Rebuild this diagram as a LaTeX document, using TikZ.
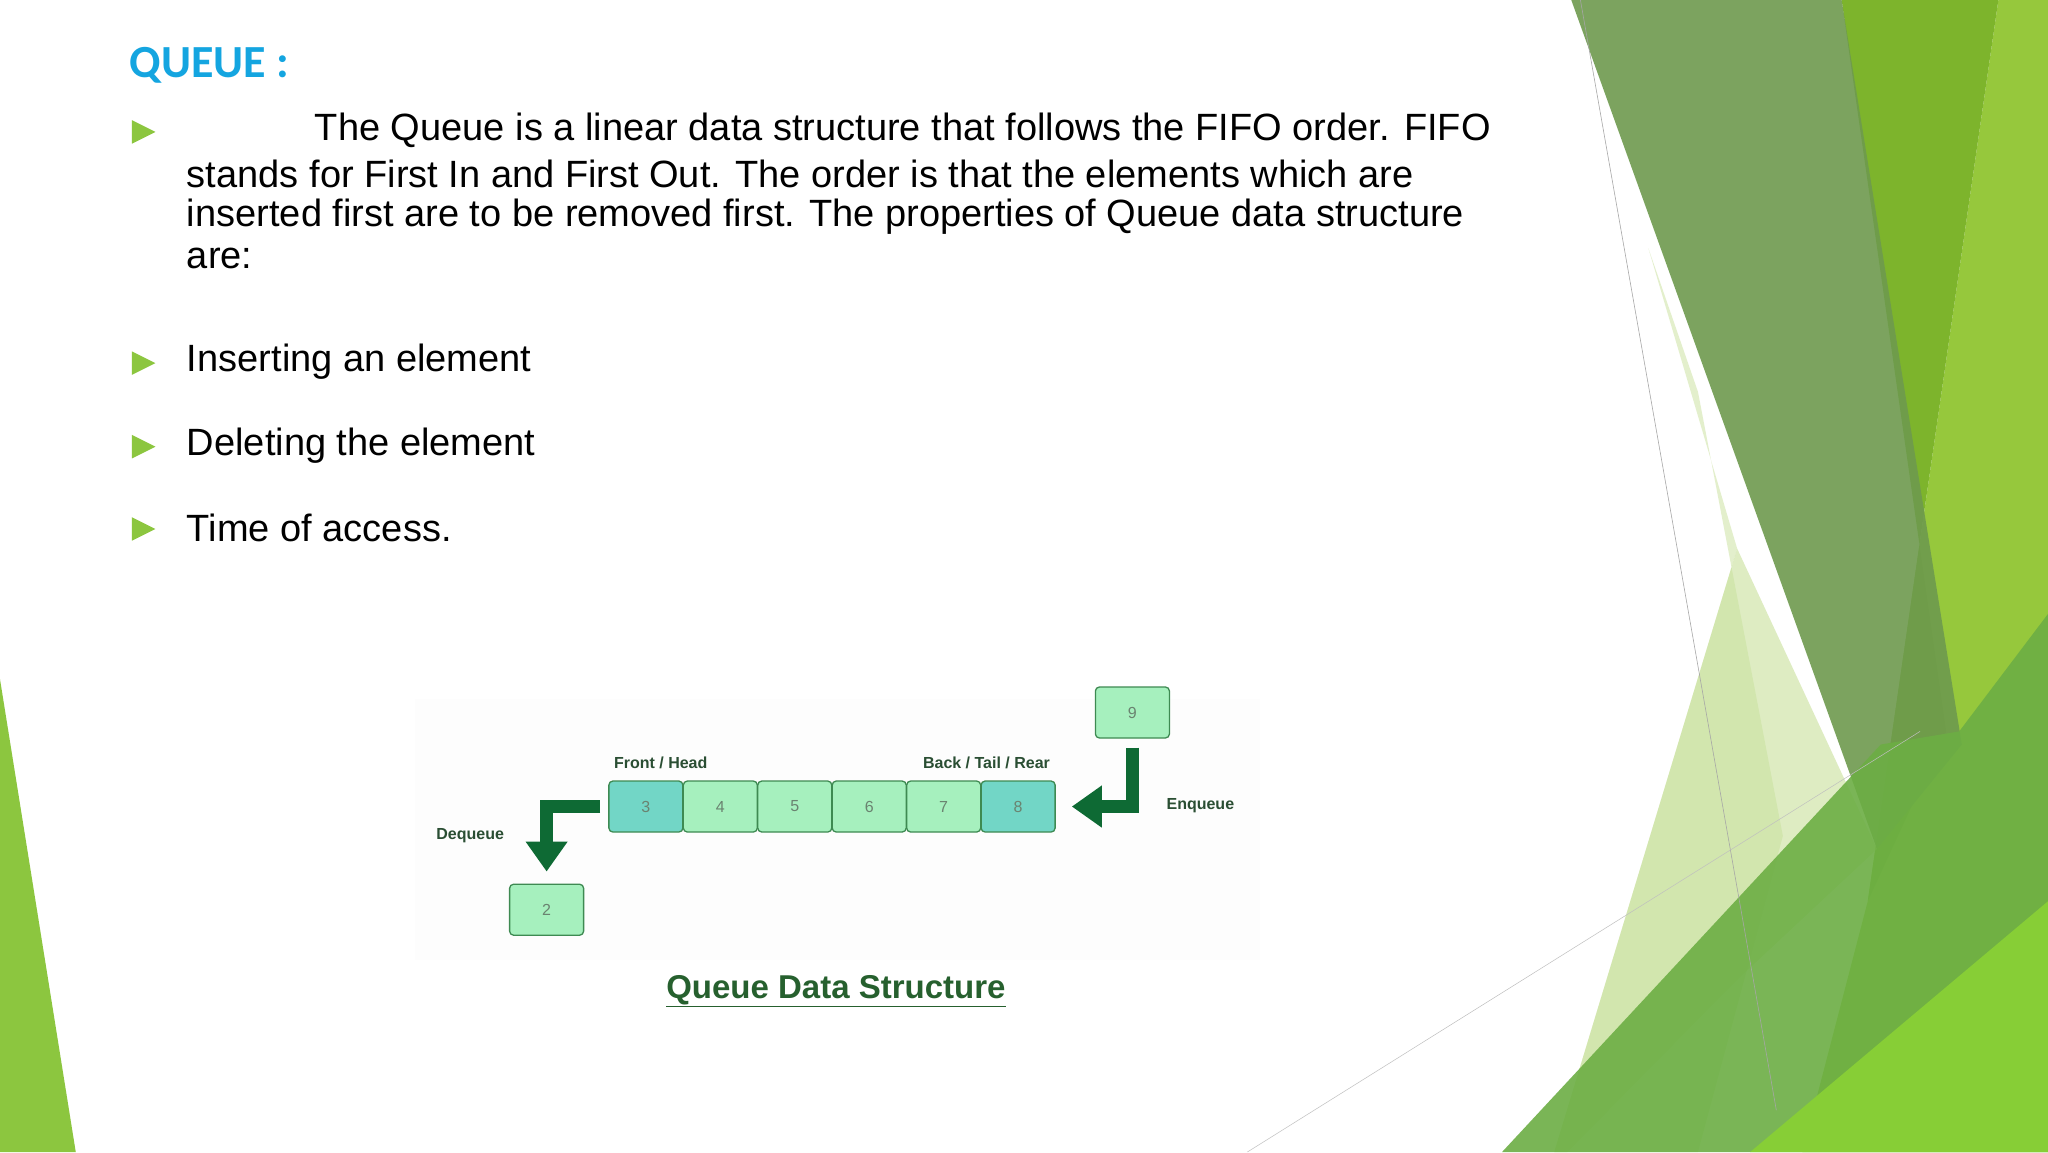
\documentclass[tikz,border=0pt]{standalone}
\usepackage{fontspec}
\setmainfont{Liberation Sans}
\newfontfamily\titlefont{Carlito}
\usetikzlibrary{arrows.meta}
\definecolor{qblue}{HTML}{14A5E0}
\definecolor{bgreen}{HTML}{8CC63F}
\definecolor{olive}{HTML}{6E9A4E}
\definecolor{mgreen}{HTML}{7DB42C}
\definecolor{lime}{HTML}{96C83C}
\definecolor{pale}{HTML}{C8E09A}
\definecolor{bandg}{HTML}{6CAE44}
\definecolor{mint}{HTML}{A6F0BE}
\definecolor{teal}{HTML}{72D6C6}
\definecolor{boxline}{HTML}{3E8A52}
\definecolor{arrowg}{HTML}{0E6A34}
\definecolor{labg}{HTML}{2A4E33}
\tikzset{
  qbox/.style={draw=boxline,line width=1.3pt,rounded corners=4pt,minimum width=74pt,minimum height=51pt,inner sep=0pt,font=\fontsize{16}{16}\selectfont,text=labg!70},
  body/.style={anchor=west,inner sep=0pt,font=\fontsize{38}{44}\selectfont},
  lab/.style={inner sep=0pt,text=labg,font=\fontsize{16}{16}\selectfont\bfseries},
  bigarrow/.style={draw=arrowg,line width=13pt,-{Triangle[width=40pt,length=30pt]}},
}
\begin{document}
\begin{tikzpicture}[x=1.30612pt,y=-1.30612pt]
\useasboundingbox (0,0) rectangle (1568,882);
\fill[white] (0,0) rectangle (1568,882);
% background shapes
\fill[lime] (1530,0) -- (1568,0) -- (1568,882) -- (1380,882) -- (1430,690) -- cycle;
\fill[mgreen] (1410,0) -- (1530,0) -- (1430,690) -- (1490,560) -- cycle;
\fill[olive,opacity=0.9] (1203,0) -- (1410,0) -- (1502,570) -- (1437,650) -- cycle;
\fill[pale,opacity=0.5] (1262,190) -- (1300,300) -- (1365,640) -- (1300,882) -- (1190,882) -- (1330,420) -- cycle;
\fill[pale,opacity=0.6] (1330,420) -- (1437,650) -- (1330,750) -- (1200,882) -- (1190,882) -- cycle;
\fill[bandg,opacity=0.9] (1150,882) -- (1440,570) -- (1500,560) -- (1568,470) -- (1568,882) -- cycle;
\fill[lime!90!green] (1340,882) -- (1568,690) -- (1568,882) -- cycle;
\fill[bgreen] (0,520) -- (58,882) -- (0,882) -- cycle;
\draw[gray!70,line width=0.6pt] (1210,0) -- (1360,850);
\draw[gray!50,line width=0.5pt] (955,882) -- (1470,560);
% title and text
\node[anchor=west,inner sep=0pt,text=qblue,font=\titlefont\fontsize{46}{46}\selectfont\bfseries] (title) at (99,50) {QUEUE :};
\foreach \y in {101,278,342,405}{\fill[bgreen] (101,\y-9) -- (119,\y) -- (101,\y+9) -- cycle;}
\node[body] (l1) at (241,100) {The Queue is a linear data structure that follows the FIFO order. FIFO};
\node[body] (l2) at (143,133) {stands for First In and First Out. The order is that the elements which are};
\node[body] (l3) at (143,166) {inserted first are to be removed first. The properties of Queue data structure};
\node[body] (l4) at (143,198) {are:};
\node[body] (i1) at (143,277) {Inserting an element};
\node[body] (i2) at (143,341) {Deleting the element};
\node[body] (i3) at (143,404) {Time of access.};
% diagram
\fill[gray!1.5] (318,535) rectangle (965,735);
\node[qbox,fill=teal] (b3) at (494.5,617.5) {3};
\node[qbox,fill=mint] (b4) at (551.5,617.5) {4};
\node[qbox,fill=mint] (b5) at (608.5,617.5) {5};
\node[qbox,fill=mint] (b6) at (665.5,617.5) {6};
\node[qbox,fill=mint] (b7) at (722.5,617.5) {7};
\node[qbox,fill=teal] (b8) at (779.5,617.5) {8};
\node[qbox,fill=mint] (b9) at (867,545.5) {9};
\node[qbox,fill=mint] (b2) at (418.5,696.5) {2};
\node[lab,anchor=west] (front) at (470,584) {Front / Head};
\node[lab,anchor=east] (back) at (804,584) {Back / Tail / Rear};
\node[lab,anchor=west] (enq) at (893,617) {Enqueue};
\node[lab,anchor=east] (deq) at (386,640) {Dequeue};
\draw[bigarrow,shorten <=8pt,shorten >=12pt] (b3.west) -| (b2.north);
\draw[bigarrow,shorten <=9pt,shorten >=16pt] (b9.south) |- (b8.east);
\node[inner sep=0pt,text=labg!90!green,font=\fontsize{33}{33}\selectfont\bfseries] (cap) at (640,759) {\underline{Queue Data Structure}};
\end{tikzpicture}
\end{document}
